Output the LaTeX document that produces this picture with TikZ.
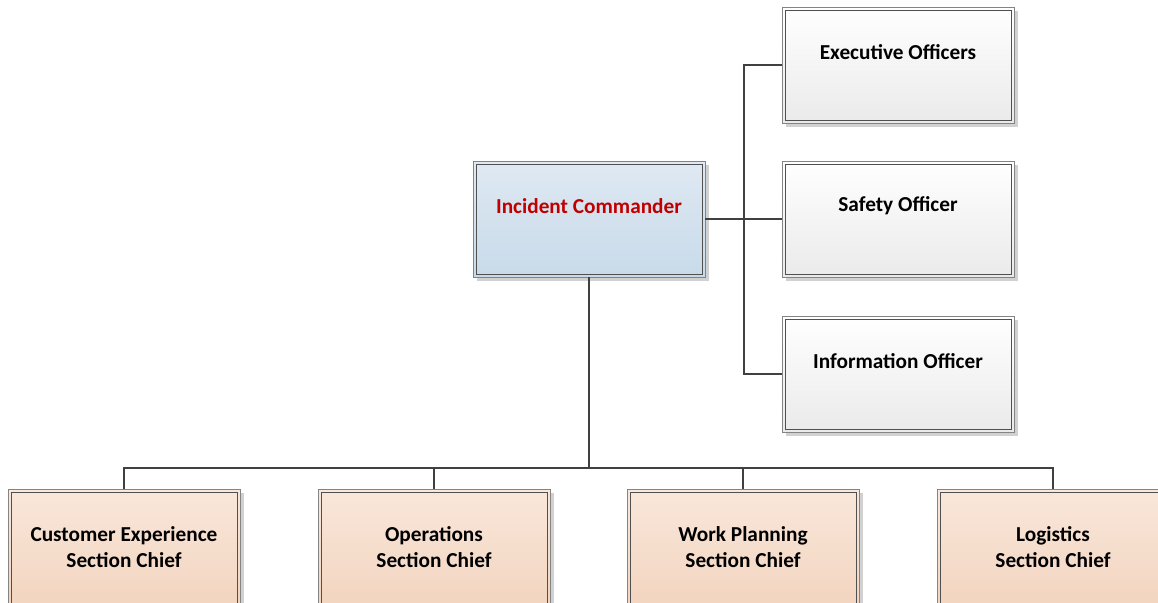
\documentclass[tikz,border=0pt]{standalone}
\usepackage{fontspec}
\setmainfont{Carlito}
\usetikzlibrary{shadows}
\definecolor{conn}{HTML}{404040}
\definecolor{bordc}{HTML}{505050}
\definecolor{icred}{HTML}{C00000}
\tikzset{
  boxbase/.style={rectangle, inner sep=0pt, minimum width=232pt, minimum height=116pt,
    draw=bordc!70, line width=0.8pt,
    drop shadow={shadow xshift=4pt, shadow yshift=-4pt, fill=black!18, opacity=1},
    path picture={\draw[bordc, line width=0.9pt]
      ([shift={(3pt,3pt)}]path picture bounding box.south west) rectangle
      ([shift={(-3pt,-3pt)}]path picture bounding box.north east);}},
  icbox/.style={boxbase, top color={rgb,255:red,223;green,233;blue,243}, bottom color={rgb,255:red,200;green,218;blue,233}},
  offbox/.style={boxbase, top color=white, bottom color={rgb,255:red,234;green,234;blue,234}},
  chiefbox/.style={boxbase, minimum height=126pt, top color={rgb,255:red,249;green,231;blue,219}, bottom color={rgb,255:red,242;green,211;blue,189}},
  lbl/.style={font=\fontsize{21.3}{26}\selectfont\bfseries, align=center, inner sep=0pt},
  wire/.style={conn, line width=1.8pt},
}
\begin{document}
\begin{tikzpicture}[x=1pt,y=-1pt]
\useasboundingbox (0,0) rectangle (1158,602);
% boxes
\node[icbox] (ic) at (589,219) {};
\node[offbox] (ex) at (898,65) {};
\node[offbox] (sa) at (898,219) {};
\node[offbox] (in) at (898,374) {};
\node[chiefbox] (c1) at (124,552) {};
\node[chiefbox] (c2) at (434,552) {};
\node[chiefbox] (c3) at (743,552) {};
\node[chiefbox] (c4) at (1053,552) {};
% labels
\node[lbl, text=icred] (icl) at ([yshift=13pt]ic.center) {Incident Commander};
\node[lbl] (exl) at ([yshift=13pt]ex.center) {Executive Officers};
\node[lbl] (sal) at ([yshift=13pt]sa.center) {Safety Officer};
\node[lbl] (inl) at ([yshift=13pt]in.center) {Information Officer};
\node[lbl] (c1l) at (124,547) {Customer Experience\\Section Chief};
\node[lbl] (c2l) at (434,547) {Operations\\Section Chief};
\node[lbl] (c3l) at (743,547) {Work Planning\\Section Chief};
\node[lbl] (c4l) at (1053,547) {Logistics\\Section Chief};
% connectors
\coordinate (rj) at (744,219);
\coordinate (bj) at (589,468);
\draw[wire] (ic.east) -- (rj);
\draw[wire] (ex.west) -| (rj);
\draw[wire] (in.west) -| (rj);
\draw[wire] (rj) -- (sa.west);
\draw[wire] (ic.south) -- (bj);
\draw[wire] (c1.north) |- (bj);
\draw[wire] (c2.north) |- (bj);
\draw[wire] (c3.north) |- (bj);
\draw[wire] (c4.north) |- (bj);
\end{tikzpicture}
\end{document}
